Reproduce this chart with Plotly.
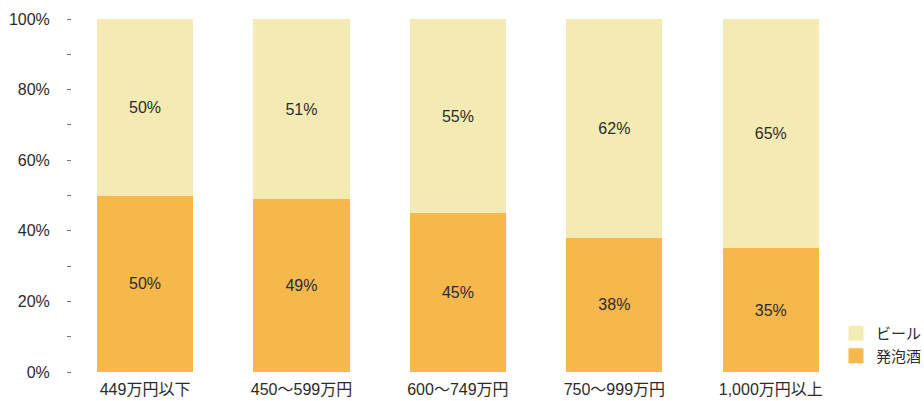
import plotly.graph_objects as go

categories = ["449万円以下", "450〜599万円", "600〜749万円", "750〜999万円", "1,000万円以上"]
happoshu = [50, 49, 45, 38, 35]
beer = [50, 51, 55, 62, 65]

FONT = "Liberation Sans, Arial, Noto Sans CJK JP, sans-serif"
C_BEER = "#F4EBB4"
C_HAPPO = "#F6B84B"
TXT = "#2b2b2b"

W, H = 924, 401
ML, MR, MT, MB = 72, 4, 19, 29
plot_w = W - ML - MR
x_end_px = 849
dom_end = (x_end_px - ML) / plot_w

fig = go.Figure()
fig.add_trace(go.Bar(
    x=categories, y=happoshu, name="発泡酒", showlegend=False,
    marker=dict(color=C_HAPPO, line=dict(width=0)),
    text=[f"{v}%" for v in happoshu], textposition="inside",
    insidetextanchor="middle", textfont=dict(color=TXT, size=16, family=FONT),
))
fig.add_trace(go.Bar(
    x=categories, y=beer, name="ビール", showlegend=False,
    marker=dict(color=C_BEER, line=dict(width=0)),
    text=[f"{v}%" for v in beer], textposition="inside",
    insidetextanchor="middle", textfont=dict(color=TXT, size=16, family=FONT),
))
# legend entries (square swatches)
fig.add_trace(go.Scatter(x=[None], y=[None], mode="markers", name="ビール",
                         marker=dict(symbol="square", size=15, color=C_BEER)))
fig.add_trace(go.Scatter(x=[None], y=[None], mode="markers", name="発泡酒",
                         marker=dict(symbol="square", size=15, color=C_HAPPO)))

fig.update_layout(
    width=W, height=H,
    barmode="stack",
    bargap=0.385,
    paper_bgcolor="white", plot_bgcolor="white",
    margin=dict(l=ML, r=MR, t=MT, b=MB, autoexpand=False),
    font=dict(family=FONT, size=16, color=TXT),
    showlegend=True,
    legend=dict(
        x=(836 - ML) / plot_w, xanchor="left", y=0.0, yanchor="bottom",
        font=dict(size=15, color=TXT, family=FONT),
        traceorder="normal", itemwidth=30, tracegroupgap=0, bgcolor="rgba(0,0,0,0)",
    ),
    uniformtext=dict(mode="show", minsize=16),
)
fig.update_xaxes(
    domain=[0, dom_end],
    range=[-0.467, 4.5], showgrid=False, showline=False, zeroline=False,
    ticks="", ticklabelstandoff=6, tickfont=dict(size=16, color=TXT),
)
fig.update_yaxes(
    range=[0, 100], dtick=20, ticksuffix="%", showgrid=False, showline=False,
    zeroline=False, ticks="outside", ticklen=4, tickcolor="#777777", tickwidth=1.2,
    ticklabelstandoff=14,
    minor=dict(dtick=10, ticks="outside", ticklen=4, tickcolor="#777777", tickwidth=1.2),
    tickfont=dict(size=16, color=TXT),
)

fig.write_html("out.html")
